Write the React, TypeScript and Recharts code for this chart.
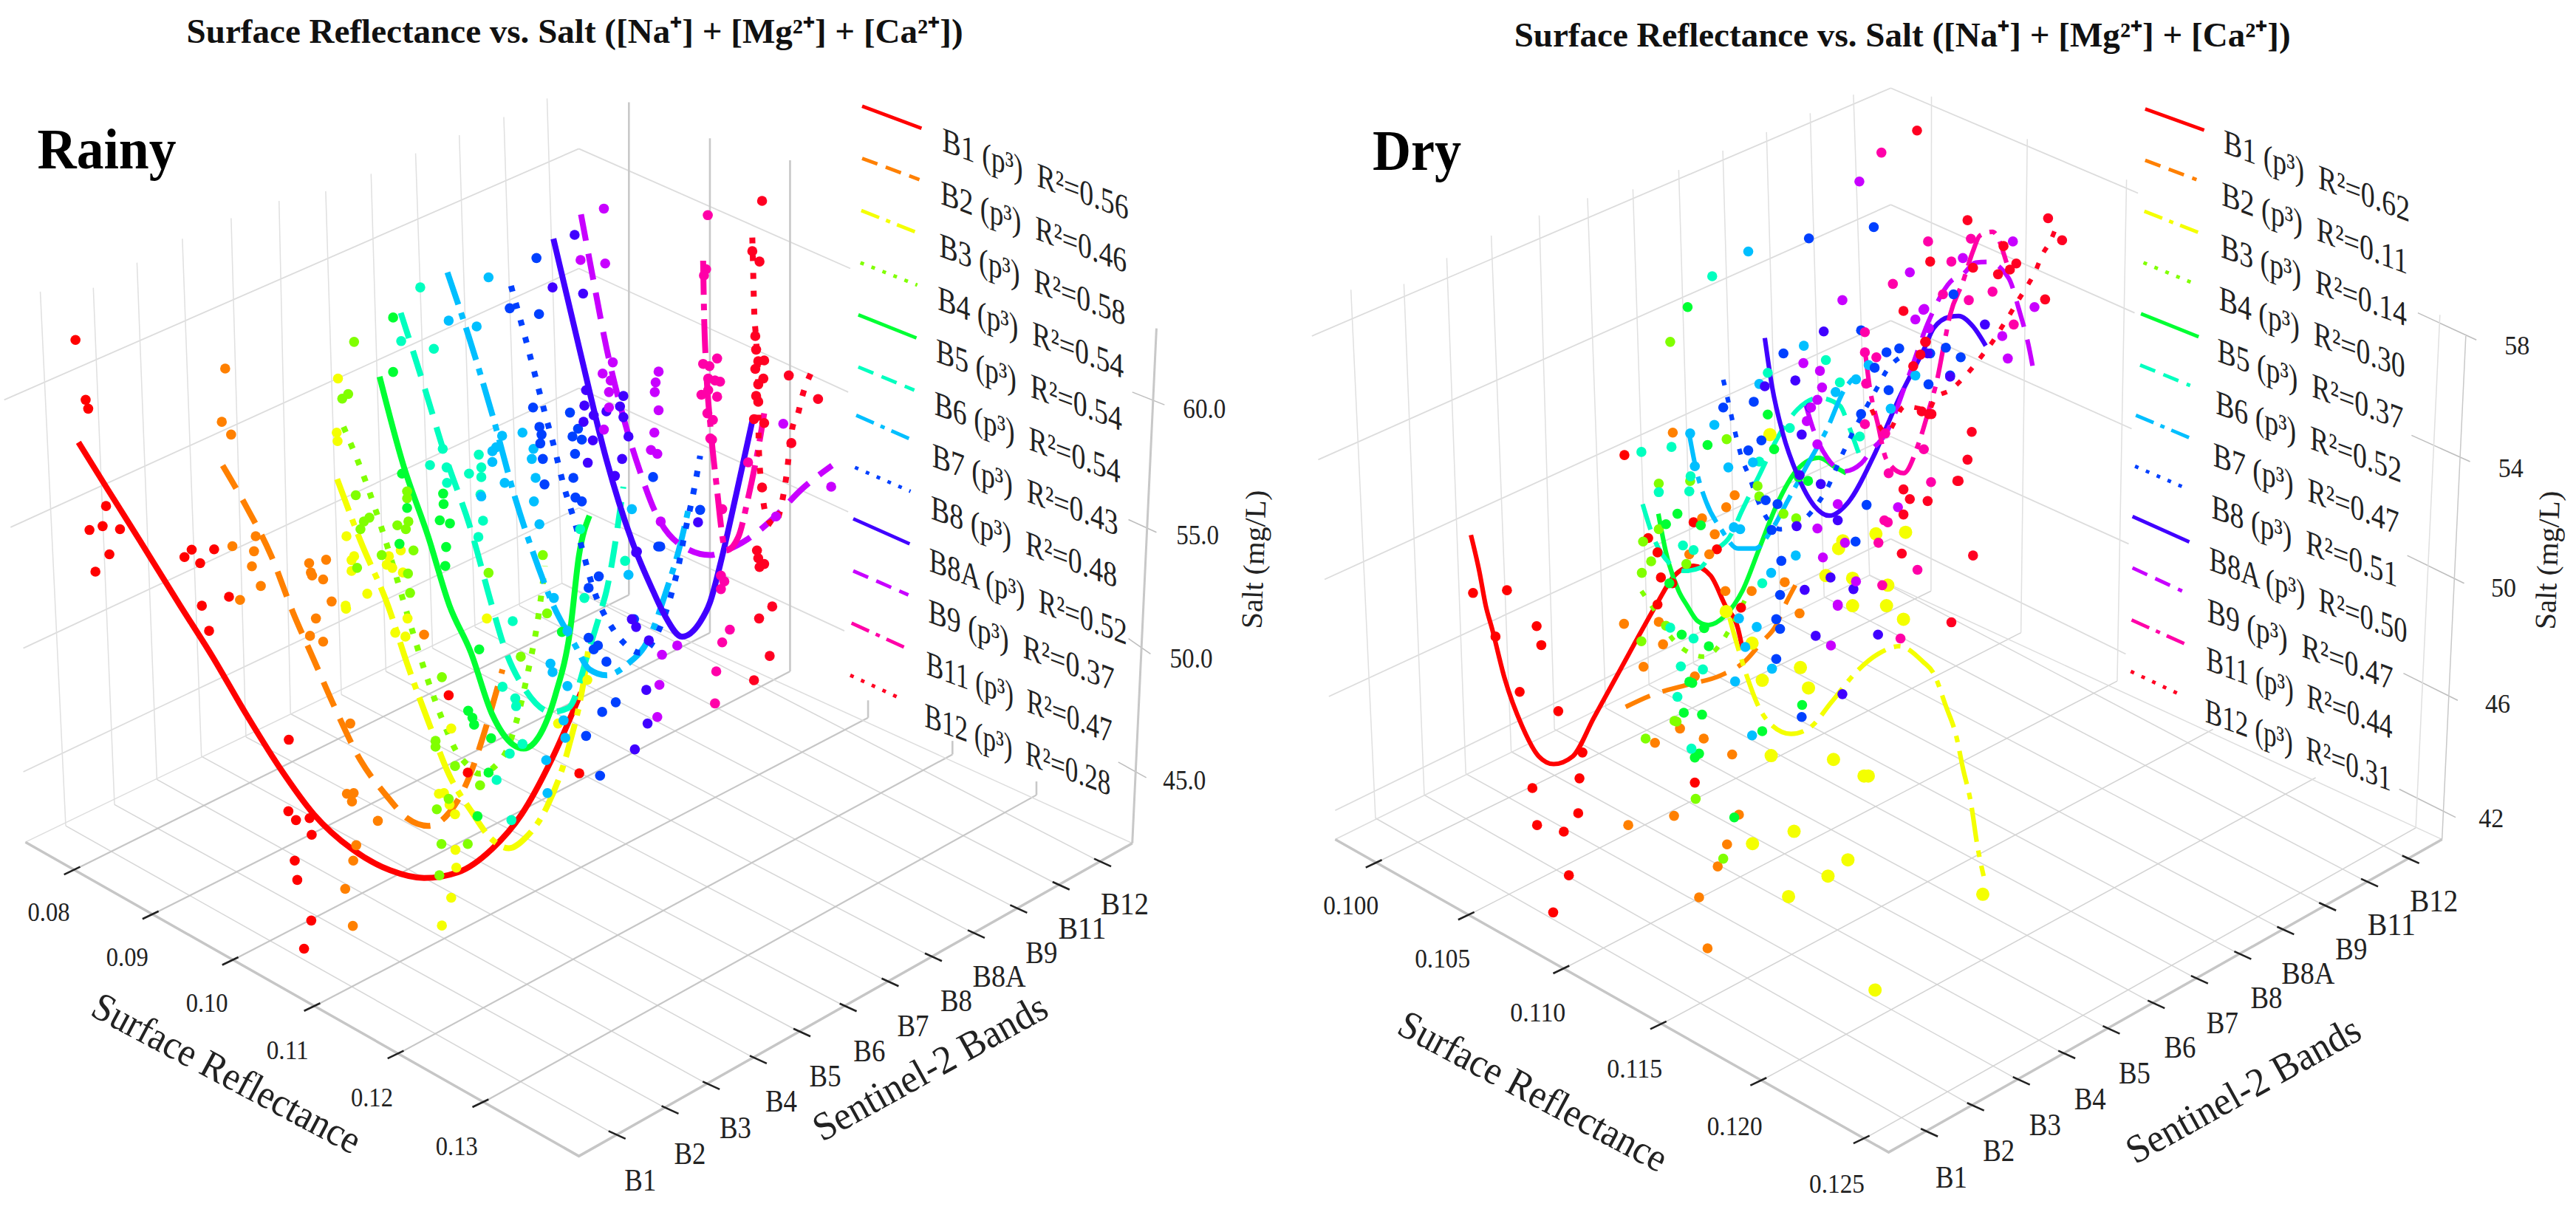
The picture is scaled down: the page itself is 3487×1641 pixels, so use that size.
import React from "react";
import { ComposedChart, Line, Scatter, XAxis, YAxis } from "recharts";

type P = number[];
const UX = 1.742; // plane units per pixel, horizontally
const UY = 1.912; // plane units per pixel, vertically
const HEIGHT = 1641;
const SERIF = "'Liberation Serif', serif";

const bandNames = ["B1", "B2", "B3", "B4", "B5", "B6", "B7", "B8", "B8A", "B9", "B11", "B12"];
const bandColors = ["#FF0000", "#FF8000", "#F4FF00", "#80FF00", "#00FF33", "#00FFBF", "#00BFFF", "#0040FF", "#4000FF", "#C800FF", "#FF00A8", "#FF0022"];
const bandDashes = ["", "36 18", "46 12 9 12", "8 16", "", "36 18", "46 12 9 12", "8 16", "", "36 18", "46 12 9 12", "8 16"];
const legendDashes = ["", "22 12", "26 10 6 10", "5 11", "", "22 12", "26 10 6 10", "5 11", "", "22 12", "26 10 6 10", "5 11"];

const rainyR2 = ["0.56", "0.46", "0.58", "0.54", "0.54", "0.54", "0.43", "0.48", "0.52", "0.37", "0.47", "0.28"];
const dryR2 = ["0.62", "0.11", "0.14", "0.30", "0.37", "0.52", "0.47", "0.51", "0.50", "0.47", "0.44", "0.31"];

/* ---------- Rainy: fitted curves, projected onto the picture plane ---------- */
const rainyCurves: P[][] = [
  [[185,1145],[250,1260],[330,1400],[425,1568],[500,1698],[580,1848],[660,1988],[740,2108],[830,2198],[920,2253],[1000,2273],[1080,2258],[1160,2198],[1230,2108],[1300,1968],[1370,1793]],
  [[525,1205],[580,1310],[640,1440],[690,1583],[740,1708],[790,1833],[850,1968],[910,2058],[960,2118],[1010,2138],[1060,2103],[1100,2028],[1150,1868],[1185,1733]],
  [[795,1240],[850,1400],[915,1568],[960,1718],[1010,1868],[1060,2008],[1110,2098],[1160,2173],[1200,2196],[1240,2168],[1290,2088],[1340,1938],[1380,1738],[1390,1658]],
  [[810,1105],[855,1225],[905,1385],[960,1588],[1005,1748],[1045,1868],[1075,1943],[1100,1978],[1130,2003],[1190,1953],[1215,1878],[1250,1713],[1265,1628],[1285,1465]],
  [[895,975],[950,1200],[1010,1390],[1060,1568],[1110,1688],[1160,1848],[1210,1928],[1235,1938],[1270,1908],[1310,1798],[1345,1628],[1365,1440],[1390,1335]],
  [[945,810],[1000,1000],[1050,1180],[1110,1370],[1160,1568],[1190,1678],[1240,1788],[1300,1843],[1340,1833],[1390,1678],[1415,1588],[1430,1530],[1470,1260]],
  [[1055,705],[1105,870],[1160,1070],[1215,1290],[1270,1470],[1305,1568],[1355,1668],[1390,1733],[1430,1748],[1481,1718],[1528,1658],[1571,1530],[1604,1410],[1623,1320]],
  [[1205,740],[1240,880],[1265,985],[1285,1070],[1305,1150],[1330,1260],[1355,1350],[1375,1430],[1395,1510],[1445,1628],[1470,1663],[1510,1690],[1555,1628],[1590,1510],[1599,1470],[1613,1390],[1637,1265],[1651,1180]],
  [[1305,618],[1370,920],[1430,1190],[1490,1400],[1540,1530],[1566,1590],[1608,1648],[1651,1610],[1674,1560],[1703,1440],[1736,1280],[1774,1090]],
  [[1370,555],[1400,730],[1430,900],[1470,1080],[1509,1220],[1547,1330],[1604,1410],[1674,1437],[1712,1425],[1764,1395],[1830,1335],[1887,1270],[1962,1205]],
  [[1658,675],[1660,800],[1665,950],[1675,1100],[1689,1250],[1712,1425],[1741,1390],[1764,1290],[1793,1130],[1802,1070]],
  [[1774,615],[1776,700],[1778,790],[1783,880],[1788,1000],[1789,1150],[1797,1270],[1807,1335],[1826,1360],[1840,1320],[1854,1235],[1868,1110],[1882,1070],[1892,1025],[1915,960]],
];

/* ---------- Rainy: sampled stations ---------- */
const rainyPoints: P[][] = [
  [[178,880],[202,1035],[208,1058],[250,1310],[211,1372],[242,1362],[283,1370],[258,1435],[225,1480],[435,1442],[452,1423],[472,1458],[505,1422],[540,1545],[476,1568],[493,1633],[681,1915],[680,2100],[698,2123],[730,2118],[735,2161],[695,2228],[701,2278],[734,2383],[717,2456],[1058,1800],[1103,2000],[1366,2002]],
  [[531,954],[523,1092],[545,1125],[603,1388],[548,1414],[599,1427],[594,1466],[615,1517],[566,1553],[729,1458],[769,1449],[733,1482],[736,1490],[762,1500],[782,1557],[745,1601],[731,1646],[762,1661],[1000,1643],[826,1873],[818,2055],[834,2053],[830,2075],[891,2125],[840,2188],[833,2228],[814,2301],[832,2397]],
  [[797,980],[794,1120],[796,1142],[817,1388],[835,1440],[829,1450],[829,1478],[866,1537],[917,1440],[945,1425],[912,1462],[925,1470],[950,1482],[815,1568],[816,1576],[932,1638],[956,1648],[961,1601],[1148,1601],[1064,1886],[1035,2055],[1047,2053],[1060,2083],[1073,2108],[1074,2200],[1076,2246],[1064,2324],[1042,2396],[1316,1873],[1385,1760]],
  [[835,885],[807,1032],[821,1020],[839,1282],[850,1370],[858,1350],[871,1340],[900,1437],[842,1470],[937,1360],[957,1370],[963,1350],[960,1272],[960,1290],[975,1425],[962,1485],[967,1535],[1152,1483],[1280,1437],[1290,1588],[1228,1700],[1042,1753],[1027,1918],[1027,1933],[1073,1983],[1030,2095],[1058,2068],[1132,2033],[1041,2185],[1103,2185],[1036,2266]],
  [[927,822],[927,963],[948,1226],[960,1315],[1045,1278],[1046,1305],[942,1408],[1052,1416],[1050,1465],[1037,1347],[1061,1355],[1130,1681],[1104,1840],[1114,1858],[1118,1876],[1158,1911],[1152,2000],[1126,2113],[1325,1636]],
  [[991,744],[946,883],[1023,903],[1044,1162],[1014,1204],[1053,1210],[1129,1177],[1106,1226],[1135,1210],[1135,1235],[1054,1250],[1133,1280],[1139,1348],[1128,1390],[1378,1548],[1474,1452],[1368,1370],[1209,1608],[1185,1778],[1215,1808],[1217,1828],[1202,1951],[1232,1926],[1171,2019],[1206,2123]],
  [[1152,718],[1058,830],[1124,845],[1184,1128],[1232,1120],[1170,1158],[1161,1168],[1161,1196],[1254,1188],[1258,1162],[1263,1237],[1190,1250],[1135,1285],[1259,1298],[1272,1357],[1306,1548],[1490,1318],[1482,1488],[1338,1633],[1298,1718],[1303,1740],[1338,1776],[1329,1865],[1333,1910],[1288,1968],[1291,2053]],
  [[1265,668],[1202,798],[1271,813],[1257,1055],[1272,1105],[1277,1125],[1274,1148],[1280,1188],[1284,1254],[1344,1068],[1363,1110],[1350,1130],[1372,1138],[1356,1175],[1352,1237],[1357,1288],[1372,1298],[1412,1492],[1388,1522],[1552,1415],[1388,1651],[1410,1671],[1400,1681],[1430,1713],[1420,1843],[1452,1818],[1382,1905],[1415,2008],[1495,1603],[1651,1320],[1540,1235],[1557,1415]],
  [[1355,608],[1303,744],[1375,760],[1382,1010],[1470,1025],[1378,1050],[1462,1052],[1430,1065],[1400,1075],[1470,1080],[1376,1092],[1398,1140],[1482,1130],[1467,1188],[1386,1198],[1450,1232],[1502,1428],[1646,1352],[1500,1430],[1490,1603],[1500,1623],[1530,1658],[1524,1786],[1527,1873],[1497,1940]],
  [[1424,540],[1427,682],[1369,673],[1445,938],[1421,967],[1440,985],[1436,1015],[1436,1055],[1424,1112],[1553,962],[1546,990],[1544,1015],[1553,1062],[1543,1120],[1535,1165],[1550,1175],[1558,1350],[1830,1337],[1847,1097],[1960,1260],[1597,1671],[1561,1695],[1555,1773],[1550,1856]],
  [[1669,557],[1665,697],[1660,713],[1691,928],[1658,942],[1673,948],[1670,980],[1686,985],[1698,988],[1670,1010],[1654,1022],[1691,1027],[1668,1070],[1681,1087],[1675,1135],[1679,1138],[1764,1197],[1703,1318],[1700,1490],[1708,1505],[1700,1525],[1721,1630],[1703,1663],[1689,1738],[1686,1821]],
  [[1797,520],[1774,650],[1791,677],[1781,870],[1783,905],[1802,933],[1788,935],[1781,955],[1800,980],[1788,995],[1783,1025],[1788,1040],[1778,1085],[1802,1095],[1860,972],[1929,1033],[1866,1147],[1797,1262],[1785,1425],[1788,1445],[1802,1460],[1791,1468],[1821,1570],[1790,1601],[1815,1698],[1778,1761]],
];

/* ---------- Dry: fitted curves ---------- */
const dryCurves: P[][] = [
  [[420,1385],[440,1480],[455,1568],[470,1628],[500,1758],[540,1878],[580,1958],[615,1978],[660,1958],[710,1858],[770,1738],[830,1618],[860,1560],[900,1490],[945,1465],[985,1490],[1020,1568],[1050,1628],[1060,1678]],
  [[785,1830],[850,1798],[930,1773],[1010,1748],[1065,1713],[1105,1663],[1140,1618],[1160,1568],[1185,1515]],
  [[1030,1600],[1050,1678],[1070,1748],[1100,1833],[1130,1878],[1175,1900],[1220,1883],[1270,1818],[1330,1738],[1380,1693],[1430,1673],[1486,1713],[1511,1743],[1540,1828],[1565,1908],[1580,1988],[1599,2078],[1614,2188],[1629,2268]],
  [[822,1530],[850,1575],[900,1660],[970,1700],[1040,1610],[1080,1520]],
  [[862,1330],[880,1430],[910,1530],[930,1568],[955,1608],[980,1618],[1020,1593],[1060,1530],[1100,1420],[1140,1310],[1190,1215],[1240,1185],[1280,1210],[1305,1225]],
  [[825,1305],[850,1390],[890,1460],[925,1478],[960,1470],[990,1430],[1030,1390],[1060,1320],[1100,1230],[1150,1120],[1190,1060],[1240,1030],[1290,1050],[1310,1100],[1335,1175]],
  [[935,1125],[950,1210],[975,1300],[1010,1370],[1050,1420],[1090,1420],[1130,1370],[1170,1290],[1215,1200],[1260,1110],[1300,1010],[1325,975]],
  [[1015,983],[1025,1030],[1040,1105],[1060,1190],[1075,1230],[1100,1305],[1120,1345],[1150,1370],[1215,1335],[1240,1300],[1260,1265],[1290,1190],[1325,1110],[1380,1000],[1400,960],[1440,920]],
  [[1113,875],[1130,1000],[1155,1120],[1190,1230],[1230,1310],[1265,1335],[1310,1300],[1370,1180],[1430,1030],[1490,900],[1511,850],[1550,820],[1570,818],[1604,845],[1634,895]],
  [[1210,1050],[1230,1120],[1260,1185],[1300,1220],[1340,1200],[1365,1165],[1400,1120],[1450,980],[1500,830],[1550,730],[1580,710],[1610,680],[1639,678],[1688,720],[1712,800],[1737,905],[1749,975]],
  [[1350,915],[1360,1000],[1380,1100],[1400,1190],[1440,1225],[1475,1150],[1500,1060],[1520,980],[1535,895],[1550,815],[1580,730],[1604,650],[1620,610],[1650,600],[1683,680]],
  [[1365,1060],[1400,1120],[1443,1052],[1500,1060],[1515,1030],[1550,1010],[1580,980],[1604,950],[1629,915],[1653,880],[1673,845],[1693,810],[1712,775],[1732,740],[1752,700],[1767,660],[1786,625],[1801,585]],
];

/* ---------- Dry: sampled stations ---------- */
const dryPoints: P[][] = [
  [[425,1535],[505,1528],[575,1621],[478,1648],[586,1670],[535,1791],[626,1841],[683,1948],[676,2015],[565,2040],[673,2105],[576,2136],[639,2153],[651,2266],[614,2362],[948,2026],[782,1178],[838,1393],[945,1352],[1000,1422],[860,1430],[868,1495],[895,1510],[860,1565],[1057,1573]],
  [[896,1120],[1042,1282],[1022,1313],[965,1342],[995,1383],[982,1435],[935,1435],[1020,1530],[1082,1530],[1160,1507],[781,1615],[863,1610],[1195,1588],[873,1668],[827,1726],[948,1751],[913,1886],[969,1912],[854,1923],[1036,1953],[791,2136],[899,2112],[1052,2109],[1024,2186],[1002,2243],[958,2323],[978,2455]],
  [[1125,1125],[1297,1400],[1287,1420],[1375,1382],[1445,1378],[1257,1490],[1320,1497],[1403,1515],[1320,1568],[1400,1568],[1440,1603],[1083,1665],[1197,1728],[1107,1761],[1216,1781],[1128,1956],[1275,1966],[1347,2009],[1357,2009],[1182,2152],[1084,2184],[1309,2226],[1262,2268],[1169,2321],[1373,2563],[1022,1583],[1627,2315]],
  [[890,885],[863,1252],[937,1245],[1023,1137],[826,1402],[863,1370],[845,1453],[823,1483],[928,1460],[1157,1330],[1187,1342],[1096,1258],[1100,1285],[880,1620],[822,1660],[950,2068],[1015,2223],[900,1866],[905,1868],[832,1912]],
  [[931,795],[978,1152],[1120,1073],[1135,1163],[907,1330],[880,1357],[962,1360],[1215,1245],[1193,1235],[888,1510],[917,1643],[981,1673],[970,1626],[1201,1825],[1107,1893],[965,1850],[922,1845],[935,1765],[942,1768],[958,1951],[948,1961],[1041,2116]],
  [[989,715],[822,1170],[893,1157],[1257,932],[1290,990],[1120,965],[1172,1108],[1100,1195],[938,1233],[863,1274],[935,1272],[920,1412],[945,1424],[1337,1130],[1107,1510],[890,1625],[945,1653],[967,1733],[915,1725],[907,1804],[940,1938]],
  [[1074,651],[1205,895],[1100,994],[1280,1015],[1328,982],[994,1100],[937,1122],[1085,1197],[948,1207],[1027,1210],[1358,945],[1410,1058],[1468,972],[1040,1365],[1055,1370],[1186,1438],[1128,1483],[1052,1601],[1094,1623],[1067,1675],[1130,1731],[1043,1764],[1083,1904]],
  [[1217,617],[1370,588],[1157,915],[1087,1040],[1015,1055],[1105,1140],[1074,1166],[1340,855],[1400,912],[1430,902],[1405,1010],[1499,995],[1372,952],[1340,1072],[1115,1295],[1143,1305],[1129,1372],[1353,1307],[1327,1402],[1152,1452],[1149,1540],[1140,1603],[1149,1628],[1140,1706],[1200,1856],[1540,900],[1558,762],[1575,925],[1550,972],[1503,915]],
  [[1252,858],[1185,985],[1113,1000],[1220,1055],[1200,1125],[1245,1253],[1195,1230],[1188,1362],[1285,1347],[1268,1495],[1322,1525],[1207,1527],[1550,975],[1497,915],[1233,1646],[1380,1643],[1296,1797],[1632,840]],
  [[1336,470],[1296,777],[1455,705],[1487,802],[1468,827],[1204,940],[1243,960],[1248,1003],[1237,1035],[1222,1055],[1212,1090],[1237,1150],[1285,1305],[1427,1313],[1237,1368],[1302,1405],[1250,1443],[1328,1505],[1285,1565],[1500,850],[1269,1671],[1285,1568],[1580,668],[1698,625],[1489,800],[1749,795],[1673,870],[1686,928]],
  [[1388,395],[1498,625],[1553,677],[1415,735],[1533,762],[1349,860],[1349,912],[1376,925],[1352,993],[1349,1098],[1397,1122],[1488,1163],[1405,1225],[1505,1248],[1395,1347],[1403,1352],[1381,1405],[1473,1475],[1390,1515],[1433,1653],[1599,618],[1594,777],[1650,755],[1700,840]],
  [[1440,805],[1493,885],[1480,918],[1463,948],[1483,1065],[1500,1072],[1440,1267],[1455,1292],[1497,1297],[1567,1245],[1440,1332],[1436,1433],[1553,1611],[1503,677],[1472,338],[1591,570],[1781,565],[1814,622],[1676,637],[1706,682],[1604,693],[1663,710],[1691,698],[1774,775],[1601,1118],[1591,1190],[1570,1245],[1604,1438],[1491,885],[1506,1072]],
];

/* ---------- Box frames: wall lines, floor lines, ticks ---------- */
const rainyFrame = {
  floor: [[60,2180],[1365,2993],[2670,2183]] as P[],
  floorBack: [[60,2180],[1325,1510],[2670,2183]] as P[],
  leftEnds: [[10,1035],[25,1365],[55,1678],[55,1998]] as P[],
  backCorners: [[1365,385],[1365,695],[1365,1005],[1365,1315]] as P[],
  rightEnds: [[2005,695],[2000,1015],[2000,1325],[1991,1633]] as P[],
  rightStubs: [[[2670,1015],[2746,1048]],[[2661,1345],[2727,1378]],[[2661,1653],[2713,1693]],[[2637,1973],[2703,2013]]] as P[][],
  bandTops: [[95,755],[220,745],[323,680],[430,618],[545,565],[658,520],[768,495],[875,450],[980,397],[1083,350],[1188,303],[1290,255]] as P[],
  bandBottoms: [[155,2138],[270,2083],[370,2018],[475,1958],[580,1908],[685,1848],[805,1798],[910,1738],[1020,1678],[1120,1623],[1225,1568],[1325,1510]] as P[],
  bandTicks: [[1455,2938],[1580,2873],[1677,2810],[1788,2743],[1891,2673],[2000,2608],[2099,2543],[2201,2478],[2302,2418],[2402,2353],[2502,2293],[2600,2233]] as P[],
  reflTicks: [[170,2254],[355,2369],[543,2488],[736,2607],[933,2730],[1133,2856]] as P[],
  reflCorners: [[1483,1540],[1674,1638],[1863,1738],[2047,1858],[2246,1953],[2444,2058]] as P[],
  reflTops: [[1483,265],[1674,358],[1863,415],[2047,1813],[2246,1918],[2444,2023]] as P[],
  saltEdge: [[2727,850],[2670,2183]] as P[],
};
const dryFrame = {
  floor: [[100,2173],[1405,2983],[2710,2173]] as P[],
  floorBack: [[100,2173],[1360,1489],[2710,2173]] as P[],
  leftEnds: [[45,870],[60,1190],[75,1500],[85,1803],[100,2098]] as P[],
  backCorners: [[1410,228],[1410,530],[1410,830],[1410,1130],[1410,1395]] as P[],
  rightEnds: [[1993,500],[1985,810],[1978,1110],[1971,1408],[1964,1693]] as P[],
  rightStubs: [[[2653,810],[2791,880]],[[2638,1127],[2776,1195]],[[2628,1438],[2762,1510]],[[2619,1743],[2747,1813]],[[2609,2043],[2742,2116]]] as P[][],
  bandTops: [[137,750],[262,735],[363,668],[468,610],[581,558],[695,513],[802,490],[910,440],[1014,390],[1117,342],[1220,293],[1322,245]] as P[],
  bandBottoms: [[195,2118],[310,2058],[408,2003],[515,1946],[617,1888],[738,1833],[840,1773],[945,1718],[1047,1660],[1150,1603],[1253,1545],[1360,1489]] as P[],
  bandTicks: [[1501,2932],[1610,2865],[1718,2798],[1825,2730],[1930,2666],[2036,2600],[2138,2536],[2240,2473],[2341,2409],[2440,2347],[2539,2285],[2636,2225]] as P[],
  reflTicks: [[191,2236],[409,2371],[633,2510],[862,2654],[1098,2800],[1341,2950]] as P[],
  reflCorners: [[1505,1530],[1717,1638],[1944,1763],[2170,1888],[2412,2013],[2648,2143]] as P[],
  reflTops: [[1506,250],[1732,360],[1966,465],[2170,1888],[2412,2013],[2705,815]] as P[],
  saltEdge: [[2766,870],[2710,2173]] as P[],
};

/* ---------- Text and legend anchors ---------- */
const rainyReflLabels = ["0.08", "0.09", "0.10", "0.11", "0.12", "0.13"];
const dryReflLabels = ["0.100", "0.105", "0.110", "0.115", "0.120", "0.125"];
const rainySaltLabels = ["60.0", "55.0", "50.0", "45.0"];
const drySaltLabels = ["58", "54", "50", "46", "42"];

const rainyReflAnchors: P[] = [[115,2365],[300,2481],[488,2600],[678,2721],[877,2845],[1077,2971]];
const dryReflAnchors: P[] = [[137,2348],[353,2485],[578,2625],[806,2770],[1042,2918],[1283,3068]];
const rainyBandAnchors: P[] = [[1510,3063],[1627,2993],[1734,2926],[1842,2858],[1946,2793],[2050,2728],[2153,2663],[2255,2598],[2356,2535],[2456,2473],[2552,2410],[2652,2348]];
const dryBandAnchors: P[] = [[1553,3055],[1665,2986],[1774,2918],[1880,2851],[1985,2785],[2092,2718],[2192,2655],[2296,2590],[2394,2526],[2496,2463],[2591,2401],[2691,2340]];
const rainySaltAnchors: P[] = [[2840,1062],[2824,1390],[2809,1708],[2793,2023]];
const drySaltAnchors: P[] = [[2887,898],[2872,1215],[2855,1525],[2841,1826],[2826,2121]];

const rainyLegendText: P[] = [[2222,390],[2218,527],[2215,663],[2211,800],[2207,936],[2203,1072],[2198,1207],[2195,1342],[2191,1478],[2189,1610],[2184,1745],[2180,1880]];
const dryLegendText: P[] = [[2195,395],[2190,530],[2188,665],[2184,800],[2180,935],[2176,1070],[2170,1205],[2166,1340],[2161,1475],[2156,1608],[2154,1733],[2151,1868]];
const rainyLegendKeys: P[][] = [[[2033,275],[2173,332]],[[2033,410],[2168,465]],[[2031,545],[2164,603]],[[2029,680],[2163,738]],[[2024,815],[2161,875]],[[2024,950],[2156,1010]],[[2019,1075],[2149,1138]],[[2016,1210],[2147,1272]],[[2012,1343],[2145,1408]],[[2012,1478],[2142,1540]],[[2008,1613],[2137,1678]],[[2005,1748],[2123,1808]]];
const dryLegendKeys: P[][] = [[[2010,282],[2149,337]],[[2010,415],[2131,465]],[[2008,547],[2138,603]],[[2006,680],[2123,733]],[[2000,812],[2136,872]],[[1998,945],[2116,998]],[[1988,1075],[2118,1135]],[[1986,1207],[2104,1263]],[[1980,1337],[2114,1403]],[[1980,1470],[2097,1530]],[[1978,1605],[2106,1668]],[[1976,1738],[2092,1798]]];

const TITLE = "Surface Reflectance vs. Salt ([Na\u207A] + [Mg\u00B2\u207A] + [Ca\u00B2\u207A])";

type Lab = { x: number; y: number; text: string; size: number; tf?: string; weight?: string; anchor?: string; len?: number; fill?: string };

const toXY = (pts: P[]) => pts.map(([x, y]) => ({ x, y }));

function textShape(props: any) {
  const { cx, cy, payload } = props;
  const p: Lab = payload;
  return (
    <text
      transform={`translate(${cx},${cy})${p.tf ? " " + p.tf : ""}`}
      fontFamily={SERIF}
      fontSize={p.size}
      fontWeight={p.weight || "normal"}
      textAnchor={p.anchor || "middle"}
      fill={p.fill || "#222"}
      textLength={p.len}
      lengthAdjust={p.len ? "spacingAndGlyphs" : undefined}
    >
      {p.text}
    </text>
  );
}

function seg(key: string, pts: P[], stroke: string, width: number) {
  return (
    <Line key={key} data={toXY(pts)} dataKey="y" type="linear" stroke={stroke} strokeWidth={width} dot={false} activeDot={false} legendType="none" isAnimationActive={false} />
  );
}

function Frame({ f, prefix, strong }: { f: typeof rainyFrame; prefix: string; strong: boolean }) {
  const wall = "#dcdcdc";
  const floorGrid = "#d6d6d6";
  const out: React.ReactNode[] = [];
  f.leftEnds.forEach((p, i) => out.push(seg(`${prefix}wl${i}`, [p, f.backCorners[i]], wall, 1.8)));
  f.backCorners.forEach((p, i) => out.push(seg(`${prefix}wr${i}`, [p, f.rightEnds[i]], wall, 1.8)));
  f.rightStubs.forEach((s, i) => out.push(seg(`${prefix}ws${i}`, s, "#bdbdbd", 1.5)));
  f.bandTops.forEach((p, i) => out.push(seg(`${prefix}bv${i}`, [p, f.bandBottoms[i]], "#e0e0e0", 1.5)));
  f.bandBottoms.forEach((p, i) => {
    const t = f.bandTicks[i];
    out.push(seg(`${prefix}bf${i}`, [p, [t[0] - 20, t[1] - 10]], floorGrid, 1.5));
  });
  f.reflTicks.forEach((t, i) => {
    out.push(seg(`${prefix}rf${i}`, [[t[0] + 19, t[1] - 10], f.reflCorners[i]], strong ? "#c6c6c6" : "#d2d2d2", strong ? 2.2 : 1.5));
    out.push(seg(`${prefix}rv${i}`, [f.reflTops[i], f.reflCorners[i]], strong ? "#c8c8c8" : "#e0e0e0", strong ? 2.6 : 1.5));
  });
  out.push(seg(`${prefix}fb`, f.floorBack, "#dddddd", 1.5));
  out.push(seg(`${prefix}se`, f.saltEdge, "#c8c8c8", strong ? 3 : 1.5));
  out.push(seg(`${prefix}fl`, f.floor, "#c6c6c6", 3.5));
  f.reflTicks.forEach((t, i) => out.push(seg(`${prefix}rt${i}`, [[t[0] - 19, t[1] + 10], [t[0] + 19, t[1] - 10]], "#222", 2.6)));
  f.bandTicks.forEach((t, i) => out.push(seg(`${prefix}bt${i}`, [[t[0] - 20, t[1] - 10], [t[0] + 20, t[1] + 10]], "#222", 2.6)));
  return <>{out}</>;
}

function Panel(props: {
  left: number; width: number; frame: typeof rainyFrame; strong: boolean; curves: P[][]; points: P[][];
  r2: string[]; bigBand: number; lineWidth: number; legendText: P[]; legendKeys: P[][];
  labels: Lab[];
}) {
  const { left, width, frame, strong, curves, points, r2, bigBand, lineWidth, legendText, legendKeys, labels } = props;
  const legendLabels: Lab[] = legendText.map(([x, y], i) => ({
    x, y, text: `${bandNames[i]} (p\u00B3)\u00A0\u00A0R\u00B2=${r2[i]}`, size: 47, anchor: "start", tf: "skewY(20.5)", len: i === 8 ? 268 : 252,
  }));
  return (
    <div style={{ position: "absolute", left, top: 0 }}>
      <ComposedChart width={width} height={HEIGHT} margin={{ top: 0, right: 0, bottom: 0, left: 0 }}>
        <XAxis type="number" dataKey="x" domain={[0, width * UX]} hide allowDataOverflow />
        <YAxis type="number" dataKey="y" domain={[0, HEIGHT * UY]} hide reversed allowDataOverflow />
        <Frame f={frame} prefix={strong ? "a" : "b"} strong={strong} />
        {points.map((pts, i) => (
          <Scatter
            key={`pts${i}`}
            data={toXY(pts)}
            fill={bandColors[i]}
            isAnimationActive={false}
            legendType="none"
            shape={(p: any) => <circle cx={p.cx} cy={p.cy} r={i === bigBand ? 9 : 6.8} fill={bandColors[i]} />}
          />
        ))}
        {curves.map((pts, i) => (
          <Line
            key={`crv${i}`}
            data={toXY(pts)}
            dataKey="y"
            type="monotone"
            stroke={bandColors[i]}
            strokeWidth={lineWidth}
            strokeDasharray={bandDashes[i] || undefined}
            dot={false}
            activeDot={false}
            legendType="none"
            isAnimationActive={false}
          />
        ))}
        {legendKeys.map((pts, i) => (
          <Line
            key={`key${i}`}
            data={toXY(pts)}
            dataKey="y"
            type="linear"
            stroke={bandColors[i]}
            strokeWidth={4.8}
            strokeDasharray={legendDashes[i] || undefined}
            dot={false}
            activeDot={false}
            legendType="none"
            isAnimationActive={false}
          />
        ))}
        <Scatter data={[...labels, ...legendLabels]} isAnimationActive={false} legendType="none" shape={textShape} />
      </ComposedChart>
    </div>
  );
}

const anchored = (a: P[], t: string[], size: number, lens: number[]): Lab[] =>
  a.map(([x, y], i) => ({ x, y: y + 20, text: t[i], size, len: lens[i] ?? lens[0] }));

const bandLens = [43, 43, 43, 43, 43, 43, 43, 43, 72, 43, 65, 65];

const rainyLabels: Lab[] = [
  { x: 440, y: 110, text: TITLE, size: 47, weight: "bold", anchor: "start", len: 1051, fill: "#111" },
  { x: 88, y: 435, text: "Rainy", size: 78, weight: "bold", anchor: "start", len: 188, fill: "#000" },
  { x: 520, y: 2808, text: "Surface Reflectance", size: 54, tf: "rotate(28)", len: 404 },
  { x: 2208, y: 2793, text: "Sentinel-2 Bands", size: 54, tf: "rotate(-29)", len: 354 },
  { x: 2980, y: 1449, text: "Salt (mg/L)", size: 40, tf: "rotate(-88)", len: 188 },
  ...anchored(rainyReflAnchors, rainyReflLabels, 36, [57]),
  ...anchored(rainyBandAnchors, bandNames, 42, bandLens),
  ...anchored(rainySaltAnchors, rainySaltLabels, 37, [58]),
];
const dryLabels: Lab[] = [
  { x: 522, y: 120, text: TITLE, size: 47, weight: "bold", anchor: "start", len: 1051, fill: "#111" },
  { x: 188, y: 440, text: "Dry", size: 78, weight: "bold", anchor: "start", len: 120, fill: "#000" },
  { x: 552, y: 2855, text: "Surface Reflectance", size: 54, tf: "rotate(28)", len: 404 },
  { x: 2256, y: 2851, text: "Sentinel-2 Bands", size: 54, tf: "rotate(-29)", len: 354 },
  { x: 2982, y: 1451, text: "Salt (mg/L)", size: 40, tf: "rotate(-88)", len: 188 },
  ...anchored(dryReflAnchors, dryReflLabels, 36, [75]),
  ...anchored(dryBandAnchors, bandNames, 42, bandLens),
  ...anchored(drySaltAnchors, drySaltLabels, 36, [34]),
];

export default function App() {
  return (
    <div style={{ position: "absolute", left: 0, top: 0, width: 3487, height: HEIGHT, background: "#fff", overflow: "hidden" }}>
      <Panel left={0} width={1750} frame={rainyFrame} strong={true} curves={rainyCurves} points={rainyPoints} r2={rainyR2} bigBand={-1} lineWidth={8} legendText={rainyLegendText} legendKeys={rainyLegendKeys} labels={rainyLabels} />
      <Panel left={1750} width={1737} frame={dryFrame} strong={false} curves={dryCurves} points={dryPoints} r2={dryR2} bigBand={2} lineWidth={6.2} legendText={dryLegendText} legendKeys={dryLegendKeys} labels={dryLabels} />
    </div>
  );
}
